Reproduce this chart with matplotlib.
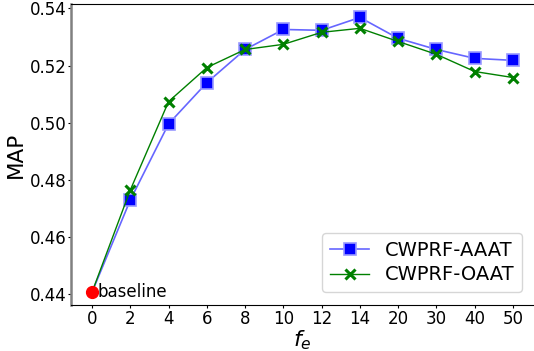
import matplotlib
matplotlib.use("Agg")
import matplotlib.pyplot as plt

x_labels = ["0", "2", "4", "6", "8", "10", "12", "14", "20", "30", "40", "50"]
aaat = [0.4408, 0.4730, 0.4996, 0.5140, 0.5256, 0.5326, 0.5323, 0.5368, 0.5295, 0.5256, 0.5225, 0.5218]
oaat = [0.4408, 0.4765, 0.5074, 0.5193, 0.5256, 0.5274, 0.5316, 0.5330, 0.5284, 0.5239, 0.5179, 0.5158]
baseline = 0.4408

fig = plt.figure(figsize=(5.34, 3.51), dpi=100)
ax = fig.add_axes([71/534, (351-305)/351, (534-71)/534, 301/351])

xs = list(range(len(x_labels)))
mark_idx = list(range(1, len(x_labels)))
ax.plot(xs, aaat, color=(0, 0, 1, 0.6), lw=1.2, marker='s', markersize=9,
        markerfacecolor='blue', markeredgecolor=(0.6, 0.6, 1.0), markeredgewidth=1.2,
        markevery=mark_idx, label='CWPRF-AAAT', zorder=3)
ax.plot(xs, oaat, color='green', lw=1.0, marker='x', markersize=7,
        markeredgewidth=2.2, markevery=mark_idx, label='CWPRF-OAAT', zorder=4)
ax.plot([0], [baseline], 'o', color='red', markersize=8.5, zorder=5)
ax.text(0.15, baseline, 'baseline', fontsize=12, va='center', ha='left')

ax.set_xticks(xs)
ax.set_xticklabels(x_labels)
ax.set_xlim(-0.55, 11.55)
ax.set_ylim(0.4363, 0.5415)
ax.set_yticks([0.44, 0.46, 0.48, 0.50, 0.52, 0.54])
ax.set_yticklabels(["0.44", "0.46", "0.48", "0.50", "0.52", "0.54"])
ax.tick_params(labelsize=12, length=2.2, pad=1.5)
ax.tick_params(axis='y', pad=0.8)
ax.set_xlabel(r'$f_e$', fontsize=16, labelpad=0)
ax.set_ylabel('MAP', fontsize=15.5, labelpad=3)

ax.spines['left'].set_color('grey')
ax.spines['left'].set_linewidth(1.8)
ax.spines['right'].set_visible(False)

leg = ax.legend(loc='lower right', fontsize=14, bbox_to_anchor=(0.995, 0.01),
                handlelength=2.0, borderpad=0.4, labelspacing=0.3)

fig.savefig('out.png', dpi=100)
